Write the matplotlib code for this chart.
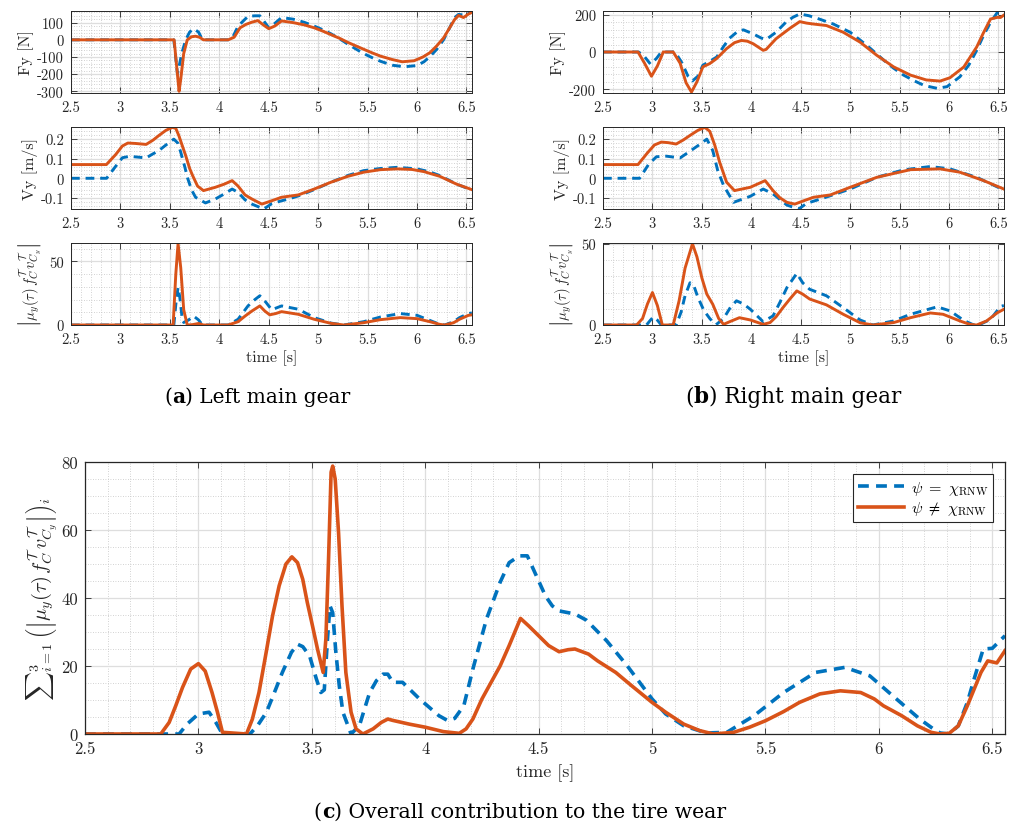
#!/usr/bin/env python3

import matplotlib
matplotlib.use('Agg')
import matplotlib.pyplot as plt
from matplotlib.ticker import MultipleLocator, FuncFormatter
from matplotlib.offsetbox import TextArea, HPacker, AnnotationBbox

BLUE = '#0072BD'
ORANGE = '#D95319'
AXC = '#262626'

# ---- data (time in s) ----
# left main gear, Fy [N]
lfy_t_eq = [2.5, 3.54, 3.577, 3.62, 3.66, 3.70, 3.74, 3.79, 3.83, 4.09, 4.14, 4.19, 4.29, 4.36, 4.41,
            4.45, 4.50, 4.56, 4.63, 4.75, 4.86, 4.96, 5.05, 5.13, 5.22, 5.30, 5.38, 5.46, 5.55,
            5.63, 5.75, 5.87, 6.0, 6.07, 6.13, 6.20, 6.27, 6.33, 6.38, 6.42, 6.47, 6.5, 6.555]
lfy_eq = [0, 0, -200, -80, 0, 45, 65, 45, 0, 0, 20, 80, 137, 140, 140,
          110, 70, 95, 130, 120, 102, 80, 58, 35, 5, -25, -53, -80, -105,
          -125, -148, -157, -150, -128, -98, -55, 2, 70, 130, 148, 145, 157, 172]
lfy_t_ne = [2.5, 3.543, 3.593, 3.61, 3.64, 3.676, 3.72, 3.76, 3.80, 3.84, 4.09, 4.15, 4.21, 4.27,
            4.33, 4.39, 4.45, 4.50, 4.56, 4.63, 4.75, 4.86, 4.96, 5.05, 5.13, 5.22, 5.30, 5.38,
            5.46, 5.55, 5.63, 5.75, 5.85, 5.97, 6.06, 6.13, 6.20, 6.27, 6.33, 6.38, 6.42, 6.47,
            6.52, 6.555]
lfy_ne = [0, 0, -300, -230, -80, 0, 18, 21, 15, 0, 0, 15, 70, 90,
          103, 112, 85, 65, 80, 110, 100, 87, 70, 50, 30, 8, -15, -35,
          -55, -77, -95, -115, -128, -122, -100, -75, -35, 12, 70, 118, 142, 130,
          150, 160]

# right main gear, Fy [N]
rfy_t_eq = [2.5, 2.86, 2.92, 2.98, 3.04, 3.09, 3.23, 3.30, 3.36, 3.405, 3.46, 3.51, 3.58, 3.65,
            3.72, 3.78, 3.85, 3.92, 4.02, 4.10, 4.15, 4.25, 4.35, 4.42, 4.49, 4.58, 4.66, 4.83,
            5.0, 5.17, 5.34, 5.44, 5.54, 5.65, 5.75, 5.88, 5.98, 6.11, 6.20, 6.28, 6.35, 6.42,
            6.5, 6.555]
rfy_eq = [0, 0, -25, -65, -35, 0, 0, -60, -130, -155, -130, -71, -50, -27,
          30, 74, 105, 119, 97, 75, 67, 106, 160, 186, 204, 195, 182, 150,
          106, 35, -44, -87, -124, -155, -180, -195, -186, -133, -70, 9, 90, 159,
          221, 230]
rfy_t_ne = [2.5, 2.854, 2.92, 2.99, 3.05, 3.11, 3.21, 3.28, 3.34, 3.395, 3.45, 3.51, 3.58, 3.65,
            3.75, 3.83, 3.90, 3.96, 4.02, 4.12, 4.15, 4.25, 4.39, 4.49, 4.56, 4.63, 4.76, 4.93,
            5.10, 5.27, 5.44, 5.61, 5.77, 5.91, 6.01, 6.15, 6.28, 6.35, 6.42, 6.49, 6.52, 6.555]
rfy_ne = [0, 0, -60, -130, -75, 0, 0, -60, -165, -215, -160, -80, -62, -35,
          18, 50, 62, 58, 44, 9, 14, 71, 127, 163, 155, 150, 142, 106,
          53, -18, -80, -124, -150, -156, -138, -80, 27, 105, 177, 186, 185, 198]

# left main gear, Vy [m/s]
lvy_t_eq = [2.5, 2.86, 2.95, 3.02, 3.09, 3.18, 3.26, 3.33, 3.39, 3.46, 3.54, 3.58, 3.61, 3.65,
            3.68, 3.72, 3.76, 3.86, 3.96, 4.05, 4.13, 4.19, 4.26, 4.33, 4.45, 4.53, 4.63, 4.70,
            4.80, 4.96, 5.13, 5.30, 5.46, 5.63, 5.80, 6.0, 6.12, 6.23, 6.40, 6.555]
lvy_eq = [0, 0, 0.06, 0.105, 0.112, 0.108, 0.104, 0.125, 0.142, 0.17, 0.2, 0.18, 0.133, 0.06,
          0.0, -0.06, -0.097, -0.126, -0.106, -0.08, -0.055, -0.072, -0.11, -0.132, -0.157, -0.13, -0.115, -0.106,
          -0.09, -0.058, -0.02, 0.014, 0.039, 0.05, 0.056, 0.048, 0.034, 0.014, -0.03, -0.06]
lvy_t_ne = [2.5, 2.858, 2.95, 3.02, 3.075, 3.15, 3.26, 3.33, 3.39, 3.46, 3.526, 3.56, 3.59, 3.63,
            3.66, 3.70, 3.73, 3.78, 3.84, 3.96, 4.05, 4.13, 4.19, 4.26, 4.33, 4.43, 4.53, 4.63,
            4.80, 4.96, 5.13, 5.30, 5.46, 5.63, 5.80, 5.95, 6.07, 6.23, 6.40, 6.555]
lvy_ne = [0.07, 0.07, 0.12, 0.165, 0.18, 0.178, 0.173, 0.195, 0.219, 0.245, 0.26, 0.255, 0.219, 0.16,
          0.116, 0.05, 0.014, -0.04, -0.063, -0.046, -0.03, -0.012, -0.04, -0.085, -0.106, -0.132, -0.115, -0.097,
          -0.085, -0.055, -0.02, 0.01, 0.031, 0.044, 0.048, 0.045, 0.034, 0.01, -0.03, -0.058]

# right main gear, Vy [m/s]
rvy_t_eq = [2.5, 2.87, 2.96, 3.04, 3.14, 3.28, 3.39, 3.47, 3.55, 3.61, 3.66, 3.72, 3.82, 3.99,
            4.12, 4.22, 4.36, 4.48, 4.56, 4.70, 5.0, 5.27, 5.54, 5.81, 6.01, 6.28, 6.555]
rvy_eq = [0, 0, 0.07, 0.11, 0.113, 0.104, 0.142, 0.17, 0.2, 0.142, 0.04, -0.037, -0.123, -0.092,
          -0.055, -0.08, -0.137, -0.157, -0.128, -0.106, -0.055, 0.005, 0.043, 0.06, 0.048, 0.005, -0.06]
rvy_t_ne = [2.5, 2.854, 2.95, 3.02, 3.09, 3.16, 3.24, 3.31, 3.38, 3.46, 3.53, 3.58, 3.63, 3.68,
            3.75, 3.83, 3.99, 4.14, 4.22, 4.29, 4.36, 4.44, 4.53, 4.63, 4.80, 5.0, 5.27, 5.61,
            5.91, 6.11, 6.35, 6.555]
rvy_ne = [0.07, 0.07, 0.13, 0.17, 0.185, 0.182, 0.175, 0.195, 0.219, 0.245, 0.26, 0.24, 0.17, 0.082,
          -0.02, -0.063, -0.046, -0.012, -0.063, -0.1, -0.123, -0.132, -0.115, -0.097, -0.085, -0.046, 0.005, 0.044,
          0.048, 0.031, -0.012, -0.055]

# left main gear, |mu_y f v|
lmu_t_eq = [2.5, 3.54, 3.565, 3.583, 3.60, 3.625, 3.64, 3.69, 3.74, 3.79, 3.83, 4.09, 4.19, 4.29,
            4.36, 4.41, 4.47, 4.53, 4.63, 4.80, 4.96, 5.13, 5.26, 5.46, 5.63, 5.83, 6.0, 6.13,
            6.23, 6.28, 6.37, 6.43, 6.52, 6.555]
lmu_eq = [0, 0, 20, 29.5, 22, 5, 2, 4, 7, 4, 0, 0, 4.5, 15,
          20, 23, 18, 12, 15, 12.4, 5.8, 1.5, 0, 2.6, 6.3, 9, 7.6, 3.6,
          0.5, 0, 2.6, 5.8, 9, 9.5]
lmu_t_ne = [2.5, 3.533, 3.56, 3.583, 3.61, 3.64, 3.676, 3.73, 3.79, 3.84, 4.09, 4.19, 4.26, 4.33,
            4.41, 4.46, 4.51, 4.57, 4.63, 4.80, 4.96, 5.13, 5.26, 5.46, 5.63, 5.83, 6.0, 6.13,
            6.23, 6.28, 6.37, 6.43, 6.52, 6.555]
lmu_ne = [0, 0, 40, 64, 45, 12, 0, 0.3, 1.2, 0, 0, 2.6, 7, 11,
          15, 11, 8, 9, 10.5, 8.4, 4.5, 1.3, 0, 1.8, 4.2, 5.8, 5, 2.6,
          0.5, 0, 1.8, 4.5, 7.6, 8]

# right main gear, |mu_y f v|
rmu_t_eq = [2.5, 2.94, 2.98, 3.01, 3.05, 3.09, 3.24, 3.29, 3.33, 3.38, 3.42, 3.46, 3.52, 3.58,
            3.64, 3.72, 3.79, 3.85, 3.92, 3.99, 4.12, 4.22, 4.29, 4.36, 4.46, 4.52, 4.59, 4.76,
            4.93, 5.10, 5.23, 5.44, 5.61, 5.88, 6.01, 6.15, 6.24, 6.30, 6.42, 6.52, 6.555]
rmu_eq = [0, 0, 3, 5, 3, 0, 0, 8, 18, 26, 24, 17, 9, 4,
          0, 4, 11, 14.9, 13, 9.7, 2, 5.6, 14, 23, 31.8, 26, 22, 18,
          10.7, 3.1, 0, 2.5, 6.6, 11.2, 8.7, 2.8, 0.3, 0, 3.5, 11.4, 12]
rmu_t_ne = [2.5, 2.84, 2.90, 2.95, 3.0, 3.05, 3.10, 3.21, 3.27, 3.33, 3.405, 3.45, 3.50, 3.55,
            3.61, 3.67, 3.72, 3.78, 3.88, 3.99, 4.12, 4.19, 4.25, 4.32, 4.39, 4.46, 4.52, 4.59,
            4.76, 4.93, 5.10, 5.23, 5.44, 5.61, 5.81, 5.94, 6.11, 6.21, 6.28, 6.38, 6.49, 6.555]
rmu_ne = [0, 0, 4, 13, 20, 12, 0, 0, 15, 35, 50, 42, 29, 19,
          12.8, 4, 0.4, 2, 4.5, 3.1, 0.4, 1.5, 5, 10.7, 16, 21, 19, 16,
          12.4, 6.6, 1.4, 0, 1.5, 4.5, 7.4, 6.6, 2.5, 0.4, 0, 2.5, 7.6, 9.7]

# overall contribution (sum of the three gears)
sum_t_eq = [2.5, 2.915, 2.95, 3.0, 3.047, 3.077, 3.106, 3.227, 3.26, 3.30, 3.335, 3.37, 3.41, 3.437,
            3.46, 3.49, 3.52, 3.54, 3.555, 3.569, 3.58, 3.592, 3.606, 3.621, 3.637, 3.673, 3.71,
            3.732, 3.755, 3.785, 3.814, 3.835, 3.857, 3.90, 3.975, 4.06, 4.10, 4.13, 4.17, 4.21,
            4.27, 4.33, 4.37, 4.415, 4.45, 4.49, 4.53, 4.56, 4.59, 4.66, 4.71, 4.80, 4.89, 5.0,
            5.06, 5.14, 5.24, 5.33, 5.45, 5.58, 5.72, 5.85, 5.96, 6.06, 6.18, 6.24, 6.27, 6.31,
            6.35, 6.39, 6.42, 6.46, 6.50, 6.556]
sum_eq = [0, 0, 2.9, 5.9, 6.4, 3.4, 0, 0, 2.4, 6.4, 12.2, 18.1, 24, 26.4,
          25.7, 23, 16.2, 12.2, 13, 27.9, 37.7, 35.7, 24, 14.2, 6.4, 0, 2.5,
          7.3, 12.2, 15.7, 17.6, 17.6, 15.2, 15.2, 10.3, 5.4, 3.9, 4.6, 8.3, 19.1,
          33.8, 44.6, 50.4, 52.4, 52.4, 46.5, 40.6, 37.7, 36.2, 35.3, 33.5, 27.4, 20.1, 10.3,
          5.9, 2.4, 0.3, 0.5, 5.4, 12.2, 18.1, 19.6, 17.1, 11.3, 4.4, 1.5, 0.3, 0,
          2.4, 9.3, 16.2, 25, 25.2, 28.9]
sum_t_ne = [2.5, 2.834, 2.871, 2.90, 2.93, 2.966, 3.0, 3.03, 3.06, 3.084, 3.106, 3.212, 3.238, 3.267,
            3.296, 3.327, 3.356, 3.386, 3.412, 3.437, 3.46, 3.48, 3.503, 3.525, 3.55, 3.562, 3.574,
            3.585, 3.592, 3.603, 3.618, 3.633, 3.65, 3.673, 3.695, 3.725, 3.77, 3.806, 3.835, 3.857,
            3.93, 4.0, 4.08, 4.15, 4.18, 4.21, 4.25, 4.33, 4.37, 4.42, 4.456, 4.50, 4.544, 4.59,
            4.63, 4.66, 4.72, 4.76, 4.84, 4.91, 5.0, 5.06, 5.14, 5.21, 5.27, 5.36, 5.43, 5.5,
            5.58, 5.65, 5.74, 5.83, 5.92, 5.98, 6.02, 6.10, 6.17, 6.23, 6.27, 6.31, 6.35, 6.39,
            6.42, 6.45, 6.48, 6.52, 6.556]
sum_ne = [0, 0, 3.4, 8.3, 13.7, 19.1, 20.7, 18.5, 12.2, 6.4, 0.5, 0, 4.4, 12.2,
          23, 34.8, 43.6, 50, 52.1, 50.4, 45.5, 38.7, 31.8, 25, 18.1, 28, 52,
          77, 78.8, 75, 59, 37.7, 18.1, 6.4, 1.5, 0, 1.5, 3.4, 4.4, 4,
          2.9, 2, 0.7, 0.2, 1.5, 4.4, 10.3, 20, 26, 34, 31.8, 28.9, 26, 24.2,
          24.8, 25, 23.5, 21.5, 18.1, 14.2, 9.3, 6.4, 2.9, 1, 0, 0.5, 2, 3.9,
          6.6, 9.3, 11.8, 12.7, 12.2, 10.3, 8.3, 5.4, 2.4, 0.5, 0, 0.2, 2.4, 8.3,
          13.2, 18.1, 21.5, 20.9, 24.5]

x_ticks = [2.5, 3, 3.5, 4, 4.5, 5, 5.5, 6, 6.5]
labels = [r'$\psi\ =\ \chi_{\mathrm{RNW}}$', r'$\psi\ \neq\ \chi_{\mathrm{RNW}}$']

MU_LABEL = r'$\left|\mu_y(\tau)\,f_C^{\mathcal{T}}\,v_{C_y}^{\mathcal{T}}\right|$'
SUM_LABEL = (r'$\sum{}_{i=1}^{3}\,\left(\left|\mu_y(\tau)\,f_C^{\mathcal{T}}\,'
             r'v_{C_y}^{\mathcal{T}}\right|\right)_i$')

plt.rcParams['font.family'] = 'serif'
plt.rcParams['font.serif'] = ['cmr10']
plt.rcParams['mathtext.fontset'] = 'cm'
plt.rcParams['axes.unicode_minus'] = False
plt.rcParams['axes.formatter.use_mathtext'] = True

fmt = FuncFormatter(lambda v, p: '%g' % v)


def style_axes(ax, yticks, ylim, yminor, fs, lw):
    ax.set_xlim(2.5, 6.556)
    ax.set_ylim(*ylim)
    ax.set_xticks(x_ticks)
    ax.set_yticks(yticks)
    ax.xaxis.set_major_formatter(fmt)
    ax.yaxis.set_major_formatter(fmt)
    ax.xaxis.set_minor_locator(MultipleLocator(0.1))
    ax.yaxis.set_minor_locator(MultipleLocator(yminor))
    ax.set_axisbelow(True)
    ax.grid(True, which='major', color='#dedede', linewidth=0.9, linestyle='-')
    ax.grid(True, which='minor', color='#c4c4c4', linewidth=0.6, linestyle=(0, (1, 2)))
    ax.tick_params(which='major', direction='in', top=True, right=True, length=4,
                   width=0.6, color=AXC, labelcolor=AXC, labelsize=fs, pad=5)
    ax.tick_params(which='minor', length=0)
    for s in ax.spines.values():
        s.set_color(AXC)
        s.set_linewidth(lw)


def draw(ax, t1, y1, t2, y2, lw):
    ax.plot(t1, y1, color=BLUE, linewidth=lw, linestyle=(0, (3, 2)), label=labels[0],
            dash_joinstyle='round', solid_joinstyle='round')
    ax.plot(t2, y2, color=ORANGE, linewidth=lw, label=labels[1], solid_joinstyle='round')


def caption(fig, x, y, letter, rest, size):
    props = dict(fontsize=size, family='DejaVu Serif', color='black')
    bold = dict(props, weight='bold')
    parts = [TextArea('(', textprops=props), TextArea(letter, textprops=bold),
             TextArea(') ' + rest, textprops=props)]
    box = HPacker(children=parts, align='baseline', pad=0, sep=0)
    ab = AnnotationBbox(box, (x, y), xycoords='figure fraction', frameon=False,
                        box_alignment=(0.5, 0.5))
    fig.add_artist(ab)


fig = plt.figure(figsize=(10.18, 8.29), dpi=100)

W = 1018.0
H = 829.0


def rect(x0, x1, y0, y1):
    return [x0 / W, 1 - y1 / H, (x1 - x0) / W, (y1 - y0) / H]


small_lw = 2.1
panels = [
    (71, lfy_t_eq, lfy_eq, lfy_t_ne, lfy_ne, lvy_t_eq, lvy_eq, lvy_t_ne, lvy_ne,
     lmu_t_eq, lmu_eq, lmu_t_ne, lmu_ne, [-300, -200, -100, 0, 100], (-310, 168), 20, (0, 64.5)),
    (603, rfy_t_eq, rfy_eq, rfy_t_ne, rfy_ne, rvy_t_eq, rvy_eq, rvy_t_ne, rvy_ne,
     rmu_t_eq, rmu_eq, rmu_t_ne, rmu_ne, [-200, 0, 200], (-220, 220), 40, (0, 50.5)),
]

for p in panels:
    x0 = p[0]
    ax1 = fig.add_axes(rect(x0, x0 + 401, 12, 94))
    draw(ax1, p[1], p[2], p[3], p[4], small_lw)
    style_axes(ax1, p[13], p[14], p[15], 10.5, 0.7)
    ax1.set_ylabel('Fy [N]', fontsize=11.5, color=AXC, labelpad=2)

    ax2 = fig.add_axes(rect(x0, x0 + 401, 128, 210))
    draw(ax2, p[5], p[6], p[7], p[8], small_lw)
    style_axes(ax2, [-0.1, 0, 0.1, 0.2], (-0.157, 0.262), 0.02, 10.5, 0.7)
    ax2.set_ylabel('Vy [m/s]', fontsize=11.5, color=AXC, labelpad=2)

    ax3 = fig.add_axes(rect(x0, x0 + 401, 244, 326))
    draw(ax3, p[9], p[10], p[11], p[12], small_lw)
    style_axes(ax3, [0, 50], p[16], 10, 10.5, 0.7)
    ax3.set_ylabel(MU_LABEL, fontsize=10.5, color=AXC, labelpad=4)
    ax3.set_xlabel('time [s]', fontsize=11.5, color=AXC, labelpad=3)

caption(fig, 257 / W, 1 - 397 / H, 'a', 'Left main gear', 14.5)
caption(fig, 793 / W, 1 - 397 / H, 'b', 'Right main gear', 15.5)

ax = fig.add_axes(rect(85, 1005, 463, 735))
draw(ax, sum_t_eq, sum_eq, sum_t_ne, sum_ne, 2.6)
style_axes(ax, [0, 20, 40, 60, 80], (0, 80), 5, 12, 0.9)
ax.set_ylabel(SUM_LABEL, fontsize=14.5, color=AXC, labelpad=1)
ax.set_xlabel('time [s]', fontsize=13, color=AXC, labelpad=5)
leg = ax.legend(loc='upper right', fontsize=11.5, fancybox=False, framealpha=1,
                edgecolor=AXC, handlelength=2.9, borderaxespad=0.75, borderpad=0.3,
                labelspacing=0.15, handletextpad=0.4)
leg.get_frame().set_linewidth(0.8)

caption(fig, 520 / W, 1 - 812 / H, 'c', 'Overall contribution to the tire wear', 14.7)

fig.savefig('out.png', dpi=100)
